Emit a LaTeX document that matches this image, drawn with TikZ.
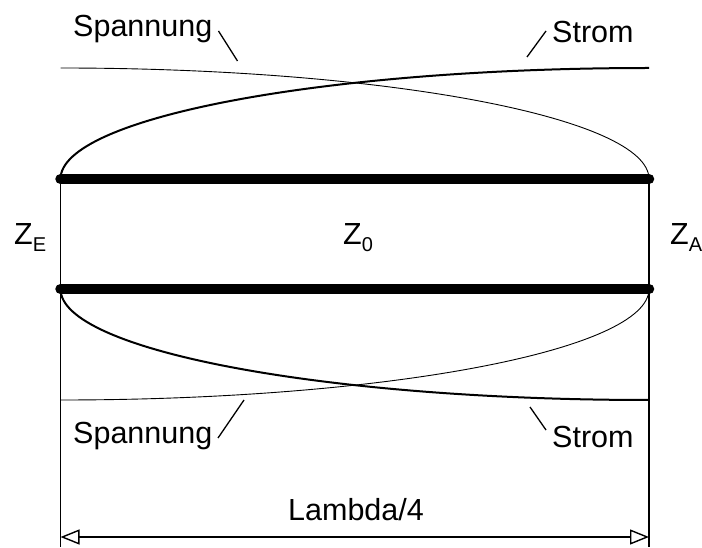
\documentclass[tikz,border=0pt]{standalone}
\usepackage{fontspec}
\setmainfont{Liberation Sans}
\usetikzlibrary{arrows.meta}
\newcommand{\lowidx}[1]{\raisebox{-7pt}{\fontsize{20}{20}\selectfont #1}}
\tikzset{
  lbl/.style={anchor=base west, inner sep=0pt, font=\fontsize{30.5}{36}\selectfont},
  thinwave/.style={line width=0.9pt},
  boldwave/.style={line width=2pt},
  wire/.style={line width=10.5pt, line cap=round},
  leader/.style={line width=1.3pt},
  edge/.style={line width=1.4pt}
}
\begin{document}
\begin{tikzpicture}[x=1pt,y=1pt]
  \useasboundingbox (0,0) rectangle (702,547);
  \def\xE{60.5}
  \def\xA{649}
  \def\len{588.5}
  \def\rise{111}
  % corners of the line
  \coordinate (ET) at (\xE,368);
  \coordinate (AT) at (\xA,368);
  \coordinate (EB) at (\xE,258);
  \coordinate (AB) at (\xA,258);
  \coordinate (EF) at (\xE,0);
  \coordinate (AF) at (\xA,0);
  \coordinate (ED) at (\xE,10);
  \coordinate (AD) at (\xA,10);
  % labels
  \node[lbl] (spanTop) at (73,510) {Spannung};
  \node[lbl] (stromTop) at (552,504) {Strom};
  \node[lbl] (spanBot) at (73,104) {Spannung};
  \node[lbl] (stromBot) at (552,100) {Strom};
  \node[lbl] (lambda) at (288,27) {Lambda/4};
  \node[lbl] (zE) at (14,302) {Z\lowidx{E}};
  \node[lbl] (zNull) at (343,302) {Z\lowidx{0}};
  \node[lbl] (zA) at (670,302) {Z\lowidx{A}};
  % leaders
  \foreach \N/\Xa/\Ya/\Xb/\Yb in {a/218.5/516/237.5/486, b/546/516/527/490, c/218/109/244/147, d/546/117/530/140}
    {
    \coordinate (l\N1) at (\Xa,\Ya);
    \coordinate (l\N2) at (\Xb,\Yb);
    \draw[leader] (l\N1) -- (l\N2);
    }
  % line and verticals
  \draw[edge] (ET) -- (EF);
  \draw[edge] (AT) -- (AF);
  \draw[wire] (ET) -- (AT);
  \draw[wire] (EB) -- (AB);
  % waves
  \draw[boldwave] (ET) arc(180:90:{\len} and {\rise});
  \draw[thinwave] (AT) arc(0:90:{\len} and {\rise});
  \draw[boldwave] (EB) arc(180:270:{\len} and {\rise});
  \draw[thinwave] (AB) arc(0:-90:{\len} and {\rise});
  % dimension
  \draw[edge, {Triangle[open,length=19pt,width=15pt]}-{Triangle[open,length=19pt,width=15pt]}] (ED) -- (AD);
\end{tikzpicture}
\end{document}
